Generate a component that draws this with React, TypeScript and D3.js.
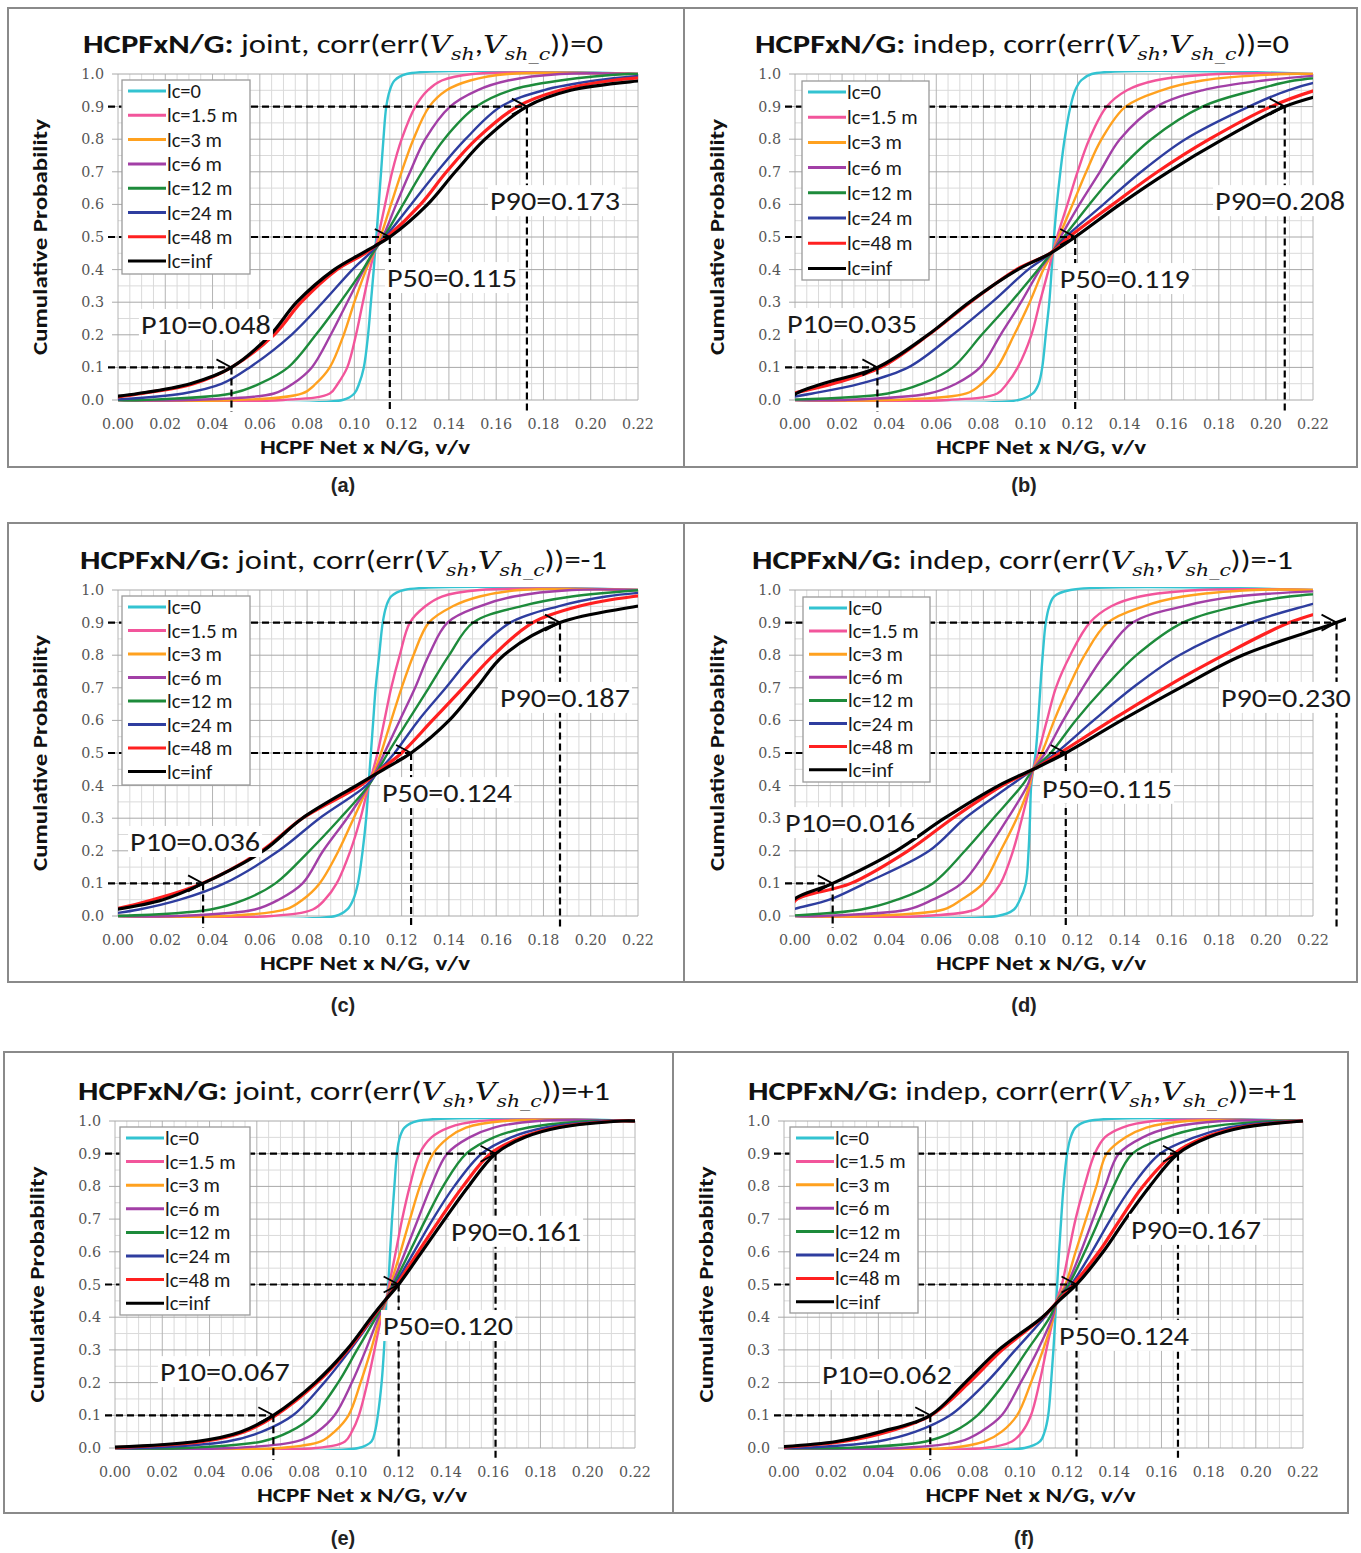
import React from "react";
import * as d3 from "d3";

// ---------- data ----------
// cumulative probability levels; each series gives the x value (HCPF Net x N/G) reached at each level
const P_LEVELS = [0, 0.02, 0.05, 0.1, 0.2, 0.3, 0.4, 0.45, 0.5, 0.6, 0.7, 0.8, 0.9, 0.95, 0.98, 1];
const SERIES_LABELS = ["lc=0", "lc=1.5 m", "lc=3 m", "lc=6 m", "lc=12 m", "lc=24 m", "lc=48 m", "lc=inf"];
const SERIES_COLORS = ["#33c3d1", "#f2559b", "#ffa11f", "#a23fa6", "#1d8b3b", "#2e3d9f", "#ff2020", "#000000"];
const X_TICKS = [0, 0.02, 0.04, 0.06, 0.08, 0.1, 0.12, 0.14, 0.16, 0.18, 0.2, 0.22];
const Y_TICKS = [0, 0.1, 0.2, 0.3, 0.4, 0.5, 0.6, 0.7, 0.8, 0.9, 1.0];
const CAPTIONS = ["(a)", "(b)", "(c)", "(d)", "(e)", "(f)"];
const MODES = ["joint", "indep", "joint", "indep", "joint", "indep"];
const CORRS = ["0", "0", "-1", "-1", "+1", "+1"];

const A_JOINT_CORR0 = [
  [0.095, 0.1, 0.102, 0.104, 0.1058, 0.107, 0.1082, 0.1087, 0.1093, 0.1103, 0.1113, 0.1123, 0.1135, 0.115, 0.117, 0.122],
  [0.07, 0.0896, 0.093, 0.097, 0.1007, 0.1036, 0.1066, 0.1083, 0.11, 0.113, 0.116, 0.12, 0.1258, 0.131, 0.137, 0.15],
  [0.05, 0.078, 0.0837, 0.0896, 0.0955, 0.1, 0.105, 0.1081, 0.111, 0.1155, 0.12, 0.125, 0.1317, 0.139, 0.149, 0.165],
  [0.03, 0.066, 0.074, 0.082, 0.09, 0.097, 0.104, 0.1079, 0.112, 0.1177, 0.1236, 0.13, 0.1405, 0.152, 0.165, 0.187],
  [0.01, 0.048, 0.06, 0.072, 0.0837, 0.094, 0.1036, 0.1077, 0.1125, 0.1206, 0.1287, 0.138, 0.1516, 0.166, 0.187, 0.216],
  [-0.005, 0.0276, 0.044, 0.0557, 0.0734, 0.0867, 0.0992, 0.1065, 0.113, 0.124, 0.135, 0.147, 0.162, 0.18, 0.202, 0.231],
  [-0.01, 0.01, 0.032, 0.048, 0.066, 0.0775, 0.0926, 0.1045, 0.1138, 0.128, 0.139, 0.1516, 0.169, 0.187, 0.209, 0.246],
  [-0.015, 0.0085, 0.0306, 0.048, 0.0645, 0.0756, 0.0915, 0.1032, 0.115, 0.131, 0.1427, 0.1553, 0.173, 0.1915, 0.222, 0.26],
];
const B_INDEP_CORR0 = [
  [0.095, 0.101, 0.1035, 0.105, 0.1065, 0.108, 0.109, 0.1095, 0.11, 0.1112, 0.1127, 0.1145, 0.117, 0.119, 0.1215, 0.126],
  [0.065, 0.0859, 0.09, 0.0946, 0.1004, 0.104, 0.1077, 0.1094, 0.1113, 0.1157, 0.12, 0.125, 0.1324, 0.141, 0.153, 0.18],
  [0.04, 0.0728, 0.0793, 0.0859, 0.0931, 0.0997, 0.1055, 0.1092, 0.112, 0.1179, 0.1237, 0.1302, 0.1404, 0.1557, 0.173, 0.209],
  [0.02, 0.0568, 0.0684, 0.0786, 0.0873, 0.096, 0.104, 0.109, 0.1128, 0.1208, 0.1295, 0.138, 0.1535, 0.173, 0.199, 0.231],
  [-0.005, 0.0394, 0.0539, 0.067, 0.0793, 0.0917, 0.1033, 0.1088, 0.1142, 0.125, 0.1368, 0.1513, 0.173, 0.195, 0.212, 0.245],
  [-0.01, 0.0074, 0.0277, 0.0481, 0.067, 0.0837, 0.099, 0.1086, 0.115, 0.131, 0.147, 0.1658, 0.1928, 0.2094, 0.2254, 0.26],
  [-0.012, -0.001, 0.0161, 0.0365, 0.0568, 0.0745, 0.094, 0.1083, 0.1164, 0.135, 0.154, 0.176, 0.2022, 0.221, 0.238, 0.268],
  [-0.002, 0.0005, 0.0117, 0.035, 0.0565, 0.074, 0.0946, 0.1085, 0.119, 0.138, 0.1586, 0.1818, 0.208, 0.2312, 0.246, 0.275],
];
const C_JOINT_CORRM1 = [
  [0.092, 0.097, 0.0995, 0.1015, 0.1035, 0.105, 0.106, 0.1065, 0.107, 0.108, 0.109, 0.1105, 0.112, 0.1135, 0.1155, 0.121],
  [0.065, 0.0824, 0.0875, 0.0925, 0.0983, 0.1026, 0.106, 0.108, 0.1098, 0.1127, 0.1156, 0.1192, 0.1235, 0.13, 0.137, 0.153],
  [0.045, 0.0709, 0.0781, 0.0853, 0.0933, 0.0997, 0.106, 0.1088, 0.1113, 0.1156, 0.12, 0.125, 0.1315, 0.1416, 0.153, 0.17],
  [0.025, 0.0579, 0.068, 0.0781, 0.0868, 0.0969, 0.106, 0.1095, 0.1127, 0.1192, 0.1257, 0.1315, 0.1394, 0.153, 0.1675, 0.192],
  [0.0, 0.0392, 0.0536, 0.0666, 0.081, 0.094, 0.106, 0.1102, 0.1142, 0.1228, 0.1315, 0.1401, 0.1502, 0.1704, 0.192, 0.221],
  [-0.01, 0.0089, 0.0262, 0.045, 0.068, 0.0853, 0.105, 0.111, 0.117, 0.1271, 0.1387, 0.1502, 0.166, 0.1863, 0.2065, 0.235],
  [-0.02, -0.002, 0.0147, 0.0356, 0.0608, 0.0781, 0.1025, 0.1112, 0.12, 0.133, 0.146, 0.1589, 0.1755, 0.195, 0.218, 0.25],
  [-0.025, -0.001, 0.019, 0.036, 0.0615, 0.078, 0.1008, 0.1125, 0.124, 0.1401, 0.1517, 0.1632, 0.187, 0.2195, 0.2425, 0.271],
];
const D_INDEP_CORRM1 = [
  [0.086, 0.093, 0.0955, 0.098, 0.0992, 0.0998, 0.1003, 0.1012, 0.1022, 0.1033, 0.1042, 0.1052, 0.1065, 0.108, 0.11, 0.117],
  [0.055, 0.0767, 0.082, 0.0873, 0.0926, 0.0964, 0.0998, 0.1012, 0.1033, 0.107, 0.1108, 0.1169, 0.1252, 0.1343, 0.1465, 0.172],
  [0.03, 0.0631, 0.0707, 0.0798, 0.0873, 0.0942, 0.0995, 0.1012, 0.1048, 0.1101, 0.1161, 0.123, 0.1328, 0.148, 0.1647, 0.195],
  [0.01, 0.0479, 0.0585, 0.0707, 0.0813, 0.0904, 0.0987, 0.1012, 0.1063, 0.1139, 0.1222, 0.1313, 0.1434, 0.1647, 0.1874, 0.235],
  [-0.005, 0.0282, 0.0434, 0.0585, 0.0722, 0.0843, 0.0964, 0.1012, 0.1086, 0.1192, 0.1313, 0.145, 0.1647, 0.1874, 0.21, 0.25],
  [-0.008, -0.001, 0.0146, 0.0297, 0.057, 0.0722, 0.0915, 0.1012, 0.1108, 0.1268, 0.1434, 0.1632, 0.1935, 0.2162, 0.233, 0.263],
  [-0.004, -0.002, 0.0005, 0.0237, 0.048, 0.067, 0.088, 0.1012, 0.1125, 0.1343, 0.157, 0.182, 0.21, 0.232, 0.245, 0.27],
  [-0.003, -0.0015, -0.0005, 0.016, 0.043, 0.0635, 0.0865, 0.1012, 0.115, 0.1386, 0.1635, 0.19, 0.23, 0.248, 0.262, 0.285],
];
const E_JOINT_CORRP1 = [
  [0.103, 0.1085, 0.11, 0.1112, 0.1128, 0.1138, 0.1145, 0.1148, 0.1156, 0.1164, 0.1172, 0.1182, 0.1193, 0.1205, 0.1225, 0.128],
  [0.085, 0.0973, 0.1002, 0.1032, 0.1068, 0.1098, 0.1127, 0.1147, 0.116, 0.1188, 0.1215, 0.1247, 0.1288, 0.1339, 0.1412, 0.154],
  [0.07, 0.0871, 0.0929, 0.0988, 0.1039, 0.1083, 0.1122, 0.1146, 0.1166, 0.1208, 0.1248, 0.129, 0.1346, 0.1412, 0.1485, 0.1647],
  [0.05, 0.0768, 0.0856, 0.0929, 0.1002, 0.1061, 0.1115, 0.1145, 0.1172, 0.1228, 0.1282, 0.1337, 0.1405, 0.15, 0.1603, 0.179],
  [0.03, 0.0622, 0.0739, 0.0841, 0.0944, 0.1024, 0.1105, 0.1144, 0.1178, 0.1247, 0.1315, 0.1388, 0.1486, 0.1603, 0.1749, 0.2013],
  [0.01, 0.0475, 0.0622, 0.0753, 0.0885, 0.0995, 0.1095, 0.1143, 0.1185, 0.1265, 0.1345, 0.1435, 0.1551, 0.1676, 0.1822, 0.2086],
  [-0.005, 0.0373, 0.0548, 0.068, 0.0855, 0.0985, 0.109, 0.1142, 0.1192, 0.1283, 0.1375, 0.1472, 0.1588, 0.172, 0.1866, 0.213],
  [-0.01, 0.0344, 0.0534, 0.067, 0.0847, 0.098, 0.1085, 0.1141, 0.12, 0.1298, 0.1395, 0.1495, 0.161, 0.1734, 0.1881, 0.215],
];
const F_INDEP_CORRP1 = [
  [0.102, 0.1085, 0.1105, 0.112, 0.1132, 0.1142, 0.115, 0.1154, 0.1158, 0.1166, 0.1175, 0.1185, 0.12, 0.1215, 0.1235, 0.129],
  [0.085, 0.0966, 0.101, 0.1047, 0.1083, 0.1112, 0.1142, 0.1155, 0.1178, 0.1207, 0.1236, 0.1273, 0.1317, 0.136, 0.1434, 0.1565],
  [0.07, 0.085, 0.0923, 0.0988, 0.1047, 0.1098, 0.1142, 0.1156, 0.1193, 0.1236, 0.128, 0.1324, 0.1368, 0.1448, 0.1536, 0.171],
  [0.05, 0.0747, 0.0835, 0.0923, 0.1003, 0.1076, 0.1138, 0.1157, 0.12, 0.1258, 0.131, 0.1361, 0.1419, 0.1521, 0.1638, 0.1857],
  [0.025, 0.0601, 0.0718, 0.082, 0.0937, 0.1032, 0.1127, 0.1158, 0.1207, 0.1275, 0.1337, 0.1397, 0.1477, 0.162, 0.178, 0.2076],
  [0.005, 0.0397, 0.0558, 0.0704, 0.0857, 0.0981, 0.1105, 0.116, 0.1218, 0.1305, 0.1385, 0.1475, 0.1594, 0.174, 0.1886, 0.2149],
  [-0.005, 0.0251, 0.0441, 0.0623, 0.0785, 0.0925, 0.1098, 0.1162, 0.1226, 0.1335, 0.1426, 0.1521, 0.1653, 0.1784, 0.193, 0.2193],
  [-0.01, 0.0222, 0.0412, 0.062, 0.0768, 0.091, 0.1095, 0.1165, 0.124, 0.1353, 0.1448, 0.155, 0.167, 0.18, 0.1945, 0.22],
];
const PANEL_DATA = [A_JOINT_CORR0, B_INDEP_CORR0, C_JOINT_CORRM1, D_INDEP_CORRM1, E_JOINT_CORRP1, F_INDEP_CORRP1];

// P10 / P50 / P90 of lc=inf curve
const PCT_PROBS = [0.1, 0.5, 0.9];
const PCT_NAMES = ["P10", "P50", "P90"];
const PANEL_PCTS = [
  [0.048, 0.115, 0.173],
  [0.035, 0.119, 0.208],
  [0.036, 0.124, 0.187],
  [0.016, 0.115, 0.23],
  [0.067, 0.12, 0.161],
  [0.062, 0.124, 0.167],
];

// ---------- layout ----------
const LAYOUT = [
  { frame: [8, 8, 676, 459], plot: [118, 74, 638, 400], titleX: 83, titleW: 520, labels: [[0.0097, 0.23], [0.1138, 0.374], [0.1574, 0.61]], legend: [4, 6, 128, 194, 24.3], caption: [343, 485], extra: 0 },
  { frame: [684, 8, 673, 459], plot: [795, 74, 1313, 400], titleX: 755, titleW: 534, labels: [[-0.0034, 0.233], [0.1125, 0.371], [0.1784, 0.61]], legend: [7, 7, 127, 199, 25.2], caption: [1024, 485], extra: 0 },
  { frame: [8, 523, 676, 459], plot: [118, 590, 638, 916], titleX: 80, titleW: 527, labels: [[0.0051, 0.227], [0.1117, 0.377], [0.1616, 0.669]], legend: [4, 6, 128, 189, 23.5], caption: [343, 1005], extra: 0 },
  { frame: [684, 523, 673, 459], plot: [795, 590, 1313, 916], titleX: 752, titleW: 541, labels: [[-0.0042, 0.285], [0.1049, 0.39], [0.1809, 0.669]], legend: [8, 7, 127, 185, 23.1], caption: [1024, 1005], extra: 0.014 },
  { frame: [4, 1052, 669, 461], plot: [115, 1121, 635, 1448], titleX: 78, titleW: 532, labels: [[0.019, 0.232], [0.1134, 0.373], [0.1422, 0.661]], legend: [5, 6, 130, 188, 23.6], caption: [343, 1538], extra: 0 },
  { frame: [673, 1052, 675, 461], plot: [784, 1121, 1303, 1448], titleX: 748, titleW: 549, labels: [[0.0161, 0.223], [0.1166, 0.343], [0.1471, 0.667]], legend: [6, 6, 128, 186, 23.4], caption: [1024, 1538], extra: 0 },
];

const CAL = "Carlito, Lato, 'Open Sans', sans-serif";
const SERIF = "'DejaVu Serif', 'Liberation Serif', serif";

function Panel({ idx }: { idx: number }) {
  const L = LAYOUT[idx];
  const data = PANEL_DATA[idx];
  const pcts = PANEL_PCTS[idx];
  const [pl, pt, pr, pb] = L.plot;
  const x = d3.scaleLinear().domain([0, 0.22]).range([pl, pr]);
  const y = d3.scaleLinear().domain([0, 1]).range([pb, pt]);
  const line = d3
    .line<[number, number]>()
    .x((d) => x(d[0]))
    .y((d) => y(d[1]))
    .curve(d3.curveCatmullRom.alpha(0.5));

  const minorX = d3.range(0, 0.2201, 0.005).filter((v) => Math.abs(v / 0.02 - Math.round(v / 0.02)) > 1e-6);
  const minorY = d3.range(0.05, 1, 0.1);
  const clipId = `clip-${idx}`;
  const clipIdB = `clipb-${idx}`;

  const seriesPoints = data.map((xs) => {
    const pts: [number, number][] = xs.map((v, i) => [v, P_LEVELS[i]] as [number, number]);
    if (xs[0] > 0) pts.unshift([0, 0]);
    if (xs[xs.length - 1] < 0.22) pts.push([0.22, 1]);
    return pts;
  });

  const [lgx, lgy, lgw, lgh, lgs] = L.legend;
  const titleY = pt - 21;

  return (
    <g>
      <rect x={L.frame[0]} y={L.frame[1]} width={L.frame[2]} height={L.frame[3]} fill="#fff" stroke="#8a8a8a" strokeWidth={2} />
      <defs>
        <clipPath id={clipId}>
          <rect x={x(0)} y={y(1) - 3} width={x(0.22) - x(0)} height={y(0) - y(1) + 5} />
        </clipPath>
        <clipPath id={clipIdB}>
          <rect x={x(0)} y={y(1) - 3} width={x(0.22 + L.extra) - x(0)} height={y(0) - y(1) + 5} />
        </clipPath>
      </defs>
      {/* title */}
      <text x={L.titleX} y={titleY} fontFamily={CAL} fontSize={27} fill="#111" textLength={L.titleW} lengthAdjust="spacingAndGlyphs">
        <tspan fontWeight={700}>HCPFxN/G:</tspan>
        <tspan>{` ${MODES[idx]}, corr(err(`}</tspan>
        <tspan fontFamily={SERIF} fontStyle="italic" fontSize={25}>V</tspan>
        <tspan fontFamily={SERIF} fontStyle="italic" fontSize={17} dy={7}>sh</tspan>
        <tspan dy={-7}>,</tspan>
        <tspan fontFamily={SERIF} fontStyle="italic" fontSize={25}>V</tspan>
        <tspan fontFamily={SERIF} fontStyle="italic" fontSize={17} dy={7}>sh_c</tspan>
        <tspan dy={-7}>{`))=${CORRS[idx]}`}</tspan>
      </text>
      {/* grid */}
      {minorX.map((v, i) => (
        <line key={`mx${i}`} x1={x(v)} x2={x(v)} y1={y(0)} y2={y(1)} stroke="#dadada" strokeWidth={1} />
      ))}
      {minorY.map((v, i) => (
        <line key={`my${i}`} x1={x(0)} x2={x(0.22)} y1={y(v)} y2={y(v)} stroke="#dadada" strokeWidth={1} />
      ))}
      {X_TICKS.map((v, i) => (
        <line key={`gx${i}`} x1={x(v)} x2={x(v)} y1={y(0)} y2={y(1)} stroke="#b4b4b4" strokeWidth={1} />
      ))}
      {Y_TICKS.map((v, i) => (
        <line key={`gy${i}`} x1={x(0) - 6} x2={x(0.22)} y1={y(v)} y2={y(v)} stroke="#a8a8a8" strokeWidth={1} />
      ))}
      {/* tick labels */}
      {X_TICKS.map((v, i) => (
        <text key={`tx${i}`} x={x(v)} y={pb + 29} textAnchor="middle" fontFamily={SERIF} fontSize={14.3} fill="#555">
          {v.toFixed(2)}
        </text>
      ))}
      {Y_TICKS.map((v, i) => (
        <text key={`ty${i}`} x={pl - 14} y={y(v) + 5} textAnchor="end" fontFamily={SERIF} fontSize={14.3} fill="#555">
          {v.toFixed(1)}
        </text>
      ))}
      {/* axis titles */}
      <text x={(pl + pr) / 2 - 13} y={pb + 54} textAnchor="middle" fontFamily={CAL} fontWeight={700} fontSize={20} fill="#111" textLength={210} lengthAdjust="spacingAndGlyphs">
        HCPF Net x N/G, v/v
      </text>
      <text
        transform={`translate(${pl - 78},${(pt + pb) / 2}) rotate(-90)`}
        x={0}
        y={7}
        textAnchor="middle"
        fontFamily={CAL}
        fontWeight={700}
        fontSize={20}
        fill="#111"
        textLength={236}
        lengthAdjust="spacingAndGlyphs"
      >
        Cumulative Probability
      </text>
      {/* curves */}
      {seriesPoints.map((pts, i) => (
        <path
          key={`s${i}`}
          d={line(pts) || ""}
          fill="none"
          stroke={SERIES_COLORS[i]}
          strokeWidth={i >= 6 ? 3.2 : 2.4}
          strokeLinejoin="round"
          clipPath={`url(#${i === 7 ? clipIdB : clipId})`}
        />
      ))}
      {/* percentile guides */}
      {pcts.map((v, i) => {
        const px = x(v);
        const py = y(PCT_PROBS[i]);
        const a = (28 * Math.PI) / 180;
        const len = 17;
        return (
          <g key={`pc${i}`}>
            <line x1={pl - 10} x2={px} y1={py} y2={py} stroke="#000" strokeWidth={2.2} strokeDasharray="7 4" />
            <line x1={px} x2={px} y1={py} y2={pb + 12} stroke="#000" strokeWidth={2.2} strokeDasharray="7 4" />
            <path
              d={`M${px - len * Math.cos(a)},${py - len * Math.sin(a)} L${px},${py} L${px - len * Math.cos(a)},${py + len * Math.sin(a)}`}
              fill="none"
              stroke="#000"
              strokeWidth={1.8}
            />
          </g>
        );
      })}
      {/* legend */}
      <rect x={pl + lgx} y={pt + lgy} width={lgw} height={lgh} fill="#fff" stroke="#9a9a9a" strokeWidth={1.3} />
      {SERIES_LABELS.map((s, i) => {
        const cy = pt + lgy + 11 + i * lgs;
        return (
          <g key={`lg${i}`}>
            <line x1={pl + lgx + 6} x2={pl + lgx + 44} y1={cy} y2={cy} stroke={SERIES_COLORS[i]} strokeWidth={3} />
            <text x={pl + lgx + 45} y={cy + 7} fontFamily={CAL} fontSize={20.5} fill="#1a1a1a">
              {s}
            </text>
          </g>
        );
      })}
      {/* percentile labels */}
      {pcts.map((v, i) => {
        const lx = x(L.labels[i][0]);
        const ly = y(L.labels[i][1]);
        return (
          <g key={`pl${i}`}>
            <rect x={lx - 2} y={ly - 16} width={134} height={31} fill="#fff" />
            <text x={lx} y={ly + 9} fontFamily={CAL} fontSize={26} fill="#1a1a1a" textLength={130} lengthAdjust="spacingAndGlyphs">
              {`${PCT_NAMES[i]}=${v.toFixed(3)}`}
            </text>
          </g>
        );
      })}
      {/* caption */}
      <text x={L.caption[0]} y={L.caption[1] + 7} textAnchor="middle" fontFamily="'Liberation Sans', Arial, sans-serif" fontWeight={700} fontSize={20} fill="#222">
        {CAPTIONS[idx]}
      </text>
    </g>
  );
}

export default function App() {
  return (
    <svg
      width={1361}
      height={1553}
      viewBox="0 0 1361 1553"
      style={{ position: "absolute", left: 0, top: 0, background: "#fff" }}
    >
      <rect x={0} y={0} width={1361} height={1553} fill="#fff" />
      {LAYOUT.map((_, i) => (
        <Panel key={i} idx={i} />
      ))}
    </svg>
  );
}
